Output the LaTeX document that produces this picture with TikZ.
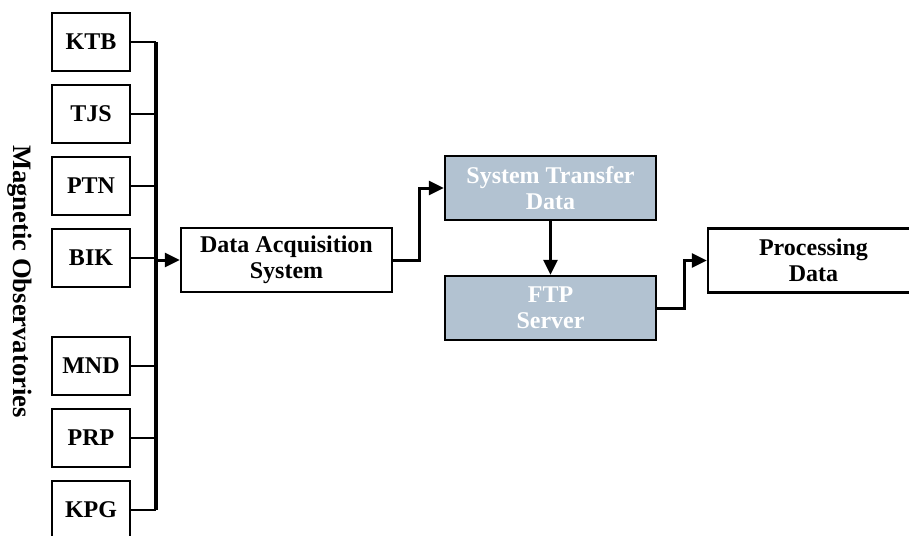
\documentclass[tikz,border=0pt]{standalone}
\usepackage{fontspec}
\setmainfont{Liberation Serif}
\usepackage{tikz}
\usetikzlibrary{arrows.meta,positioning}
\definecolor{srvblue}{RGB}{178,194,209}

\begin{document}
\begin{tikzpicture}[
  font=\bfseries\fontsize{12}{13}\selectfont,
  box/.style={draw,line width=1.2pt,minimum height=32pt,minimum width=105.5pt,align=center,inner sep=1pt},
  obsbox/.style={box,minimum height=29pt,minimum width=39pt},
  srvbox/.style={box,fill=srvblue,text=white},
  arr/.style={-{Triangle[length=7.5pt,width=7pt]},line width=1.5pt},
  bus/.style={line width=1.4pt},
  ]
  \useasboundingbox (0,0) rectangle (454.5pt,-267.5pt);
  \clip (0,0) rectangle (454.5pt,-267.5pt);
  % observatories
  \node[obsbox] (ktb) at (45.5pt,-21pt) {KTB};
  \node[obsbox,below=5.8pt of ktb] (tjs) {TJS};
  \node[obsbox,below=5.8pt of tjs] (ptn) {PTN};
  \node[obsbox,below=5.8pt of ptn] (bik) {BIK};
  \node[obsbox,below=23.8pt of bik] (mnd) {MND};
  \node[obsbox,below=5.8pt of mnd] (prp) {PRP};
  \node[obsbox,below=5.8pt of prp] (kpg) {KPG};
  \node[rotate=-90,font=\bfseries\fontsize{13.3}{14}\selectfont] (obs) at (10pt,-140.75pt) {Magnetic Observatories};
  % processing chain
  \node[box,right=24.3pt of bik,yshift=-1pt] (das) {Data Acquisition\\System};
  \node[srvbox,right=25.3pt of das,yshift=36pt] (std) {System Transfer\\Data};
  \node[srvbox,below=26.8pt of std] (ftp) {FTP\\Server};
  \node[box,right=24.8pt of ftp,yshift=23.75pt] (pd) {Processing\\Data};
  % bus
  \coordinate (bus) at ([xshift=12.5pt]ktb.east);
  \draw[bus,line width=1.8pt] (bus) -- (bus |- kpg.east);
  \foreach \o in {ktb,tjs,ptn,bik,mnd,prp,kpg}
    \draw[bus] (\o.east) -- (bus |- \o.east);
  \draw[arr] (bus |- das.west) -- (das.west);
  \draw[arr] (das.east) -- ++(13pt,0) |- (std.west);
  \draw[arr] (std) -- (ftp);
  \draw[arr] (ftp.east) -- ++(13.5pt,0) |- (pd.west);
\end{tikzpicture}
\end{document}
